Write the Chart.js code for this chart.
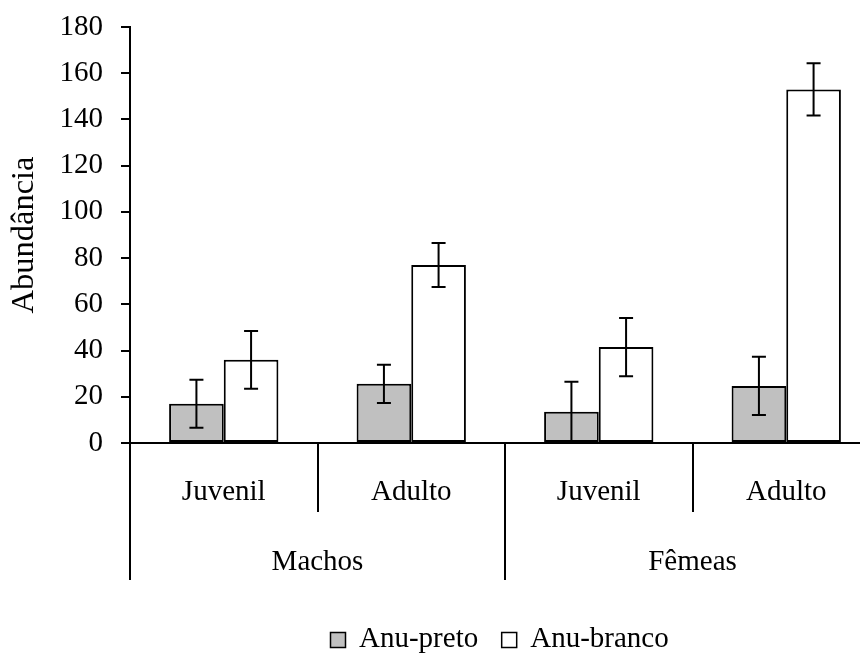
<!DOCTYPE html>
<html><head><meta charset="utf-8">
<script src="https://cdn.jsdelivr.net/npm/chart.js@4.4.1/dist/chart.umd.min.js"></script>
<style>html,body{margin:0;padding:0;overflow:hidden;background:#fff}#wrap{width:880px;height:654px}</style>
</head><body><div id="wrap"><canvas id="c" width="880" height="654"></canvas></div>
<script>
const subLabels = ['Juvenil', 'Adulto', 'Juvenil', 'Adulto'];
const groupLabels = ['Machos', 'Fêmeas'];
const seriesNames = ['Anu-preto', 'Anu-branco'];
const anuPreto = [17, 25.6, 13.5, 24.7];
const anuPretoErr = [10.4, 8.3, 13, 12.6];
const anuBranco = [36, 77, 41.5, 153];
const anuBrancoErr = [12.5, 9.5, 12.6, 11.3];
const yMin = 0, yMax = 180, yStep = 20;
const yTitle = 'Abundância';

const FONT = 'Liberation Serif, Times New Roman, serif';
const FS = 29;
Chart.defaults.font.family = FONT;
Chart.defaults.color = '#000';

const errorBars = {
  id: 'errorBars',
  afterDatasetsDraw(chart) {
    const ctx = chart.ctx, ys = chart.scales.y;
    const errs = [anuPretoErr, anuBrancoErr];
    chart.data.datasets.forEach((ds, i) => {
      const meta = chart.getDatasetMeta(i);
      meta.data.forEach((bar, j) => {
        const v = ds.data[j], e = errs[i][j];
        const hi = ys.getPixelForValue(v + e);
        const lo = ys.getPixelForValue(Math.max(0, v - e));
        ctx.save();
        ctx.strokeStyle = '#000'; ctx.lineWidth = 2;
        ctx.beginPath();
        ctx.moveTo(bar.x, hi); ctx.lineTo(bar.x, lo);
        ctx.moveTo(bar.x - 7, hi); ctx.lineTo(bar.x + 7, hi);
        ctx.moveTo(bar.x - 7, lo); ctx.lineTo(bar.x + 7, lo);
        ctx.stroke();
        ctx.restore();
      });
    });
  }
};

const groupAxis = {
  id: 'groupAxis',
  afterDraw(chart) {
    const ctx = chart.ctx, xs = chart.scales.x, area = chart.chartArea;
    const step = xs.getPixelForValue(1) - xs.getPixelForValue(0);
    const edge = i => xs.getPixelForValue(i) - step / 2;
    ctx.save();
    ctx.strokeStyle = '#000'; ctx.lineWidth = 2;
    ctx.beginPath();
    [1, 3].forEach(i => { const x = Math.round(edge(i)); ctx.moveTo(x, area.bottom); ctx.lineTo(x, 512); });
    [0, 2, 4].forEach(i => { const x = Math.round(edge(i)); ctx.moveTo(x, area.bottom); ctx.lineTo(x, 580); });
    ctx.stroke();
    ctx.fillStyle = '#000';
    ctx.font = FS + 'px ' + FONT;
    ctx.textAlign = 'center'; ctx.textBaseline = 'alphabetic';
    groupLabels.forEach((g, k) => {
      const cx = (edge(2 * k) + edge(2 * k + 2)) / 2;
      ctx.fillText(g, cx, 570);
    });
    const fills = ['#c0c0c0', '#ffffff'];
    let x = 330;
    ctx.textAlign = 'left';
    seriesNames.forEach((n, i) => {
      ctx.fillStyle = fills[i];
      ctx.fillRect(x, 632, 15, 15);
      ctx.lineWidth = 1.5; ctx.strokeStyle = '#000';
      ctx.strokeRect(x + 0.5, 632.5, 15, 15);
      x += 16 + 13;
      ctx.fillStyle = '#000';
      ctx.fillText(n, x, 647);
      x += ctx.measureText(n).width + 23;
    });
    ctx.restore();
  }
};

new Chart(document.getElementById('c'), {
  type: 'bar',
  data: {
    labels: subLabels,
    datasets: [
      { label: seriesNames[0], data: anuPreto, backgroundColor: '#c0c0c0', borderColor: '#000', borderWidth: 2, borderSkipped: false },
      { label: seriesNames[1], data: anuBranco, backgroundColor: '#ffffff', borderColor: '#000', borderWidth: 2, borderSkipped: false }
    ]
  },
  options: {
    responsive: false, animation: false, devicePixelRatio: 1,
    categoryPercentage: 0.583, barPercentage: 1,
    layout: { padding: { top: 27, left: 0, right: 0, bottom: 0 } },
    plugins: { legend: { display: false }, tooltip: { enabled: false } },
    scales: {
      x: {
        grid: { display: false, drawTicks: false },
        border: { display: true, color: '#000', width: 2 },
        ticks: { font: { size: FS }, color: '#000', padding: 32, maxRotation: 0, autoSkip: false },
        afterFit(s) { s.height = 211; s.paddingLeft = 0; s.paddingRight = 0; }
      },
      y: {
        min: yMin, max: yMax,
        ticks: { stepSize: yStep, font: { size: FS }, color: '#000', padding: 18 },
        grid: { drawOnChartArea: false, drawTicks: true, tickLength: 9, color: '#000', lineWidth: 2 },
        border: { display: true, color: '#000', width: 2 },
        title: { display: true, text: yTitle, font: { size: 32.5 }, color: '#000', padding: { top: 5, bottom: 0 } },
        afterFit(s) { s.width = 130; s.paddingTop = 0; s.paddingBottom = 0; }
      }
    }
  },
  plugins: [errorBars, groupAxis]
});
</script></body></html>
